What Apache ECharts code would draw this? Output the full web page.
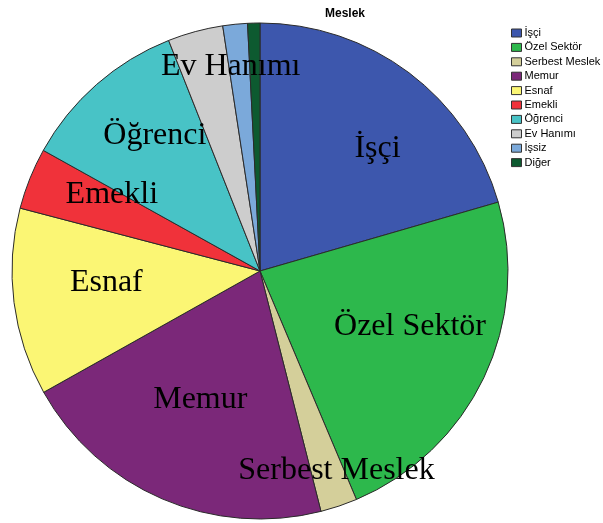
<!DOCTYPE html>
<html>
<head>
<meta charset="utf-8">
<script src="https://cdn.jsdelivr.net/npm/echarts@6/dist/echarts.min.js"></script>
<style>
  html, body { margin: 0; padding: 0; background: #fff; }
  #chart { width: 603px; height: 523px; }
</style>
</head>
<body>
<div id="chart"></div>
<script>
// Meslek dağılımı (yüzde)
var categories = ["İşçi", "Özel Sektör", "Serbest Meslek", "Memur", "Esnaf", "Emekli", "Öğrenci", "Ev Hanımı", "İşsiz", "Diğer"];
var values = [20.5, 23.1, 2.4, 20.8, 12.2, 4.0, 10.9, 3.6, 1.6, 0.8];
var colors = ["#3d57ad", "#2db84c", "#d4cf9a", "#7b2879", "#fbf674", "#f0323a", "#48c3c6", "#cdcdcd", "#7ba9da", "#0d5a30"];
// küçük dilimlerin etiketleri dışa yakın duruyor
var outerLabels = ["Serbest Meslek", "Ev Hanımı"];
var hiddenLabels = ["İşsiz", "Diğer"];

var chart = echarts.init(document.getElementById("chart"));

// etiketleri SPSS çıktısındaki yerlerine kaydırmak için (px)
var labelNudge = {
  "İşçi": [19, 9],
  "Özel Sektör": [2, -15],
  "Serbest Meslek": [9, -1],
  "Memur": [5, -22],
  "Esnaf": [9, -9],
  "Emekli": [4, -15],
  "Öğrenci": [3, -12],
  "Ev Hanımı": [26, 0]
};

var pieData = categories.map(function (name, i) {
  return { name: name, value: values[i], itemStyle: { color: colors[i] } };
});

function labelSeries(r0, pick) {
  return {
    type: "pie",
    center: [260, 271],
    radius: [r0, 248],
    startAngle: 90,
    silent: true,
    animation: false,
    itemStyle: { color: "transparent", borderWidth: 0 },
    emphasis: { disabled: true },
    labelLine: { show: false },
    data: categories.map(function (name, i) {
      return {
        name: name,
        value: values[i],
        label: { show: pick(name), offset: labelNudge[name] || [0, 0] }
      };
    }),
    label: {
      position: "inside",
      color: "#000",
      fontFamily: "Liberation Serif, Times New Roman, serif",
      fontSize: 32,
      formatter: "{b}"
    }
  };
}

chart.setOption({
  animation: false,
  title: {
    text: "Meslek",
    left: 340,
    top: 3,
    textAlign: "center",
    textStyle: { fontFamily: "Liberation Sans, Arial", fontSize: 12, fontWeight: "bold", color: "#000" }
  },
  legend: {
    orient: "vertical",
    left: 511,
    top: 27.5,
    data: categories,
    itemWidth: 10,
    itemHeight: 8,
    itemGap: 3.4,
    padding: 0,
    icon: "rect",
    itemStyle: { borderColor: "#333", borderWidth: 1 },
    textStyle: { fontFamily: "Liberation Sans, Arial", fontSize: 11, lineHeight: 11, color: "#000", padding: [0, 0, 0, -2] },
    selectedMode: false
  },
  series: [
    {
      type: "pie",
      center: [260, 271],
      radius: [0, 248],
      startAngle: 90,
      data: pieData,
      label: { show: false },
      labelLine: { show: false },
      emphasis: { disabled: true },
      itemStyle: { borderColor: "#2a2a2a", borderWidth: 1 }
    },
    labelSeries(74, function (n) { return outerLabels.indexOf(n) < 0 && hiddenLabels.indexOf(n) < 0; }),
    labelSeries(170, function (n) { return outerLabels.indexOf(n) >= 0; })
  ]
});
</script>
</body>
</html>
